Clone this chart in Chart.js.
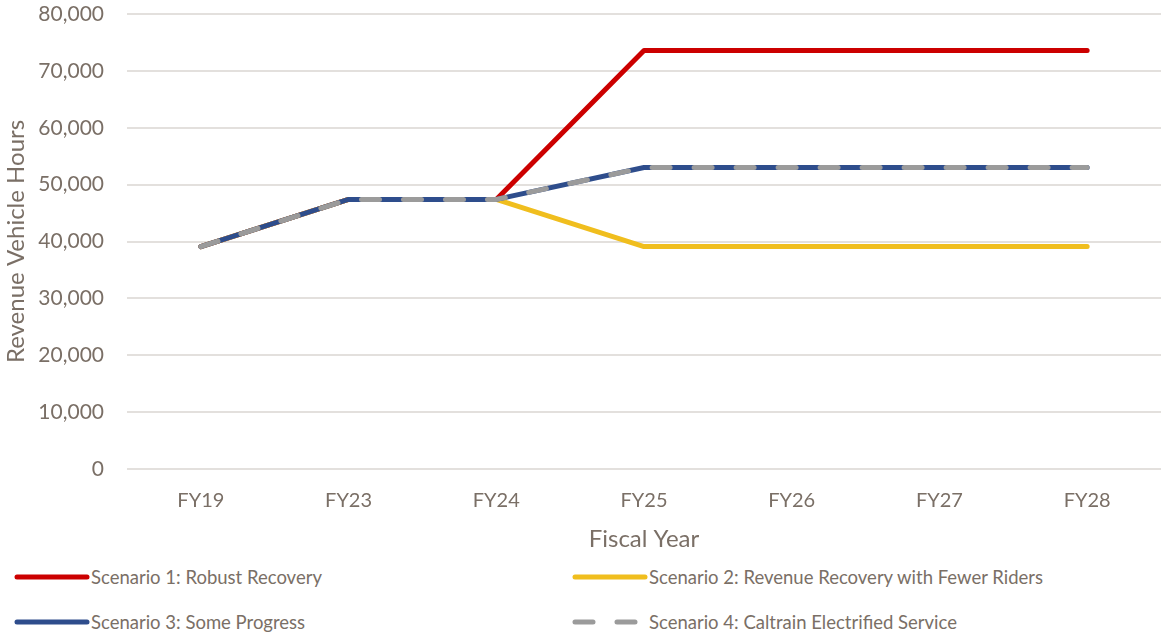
<!DOCTYPE html>
<html>
<head>
<meta charset="utf-8">
<script src="https://cdn.jsdelivr.net/npm/chart.js@4"></script>
<style>
  body { margin:0; background:#fff; font-family:Lato, "Open Sans", sans-serif; }
  #wrap { position:relative; width:1161px; height:639px; }
  #lineChart { position:absolute; left:0; top:0; }
  #legend { position:absolute; left:0; top:558px; width:1161px; height:81px; }
  .lg { position:absolute; display:flex; align-items:center; color:#7a6f66; font-size:18.5px; white-space:nowrap; }
  .lg canvas { margin-right:1px; }
</style>
</head>
<body>
<div id="wrap">
  <canvas id="lineChart" width="1161" height="558"></canvas>
  <div id="legend"></div>
</div>
<script>
// chart data
const years = ['FY19','FY23','FY24','FY25','FY26','FY27','FY28'];
const robust = [39100, 47400, 47400, 73600, 73600, 73600, 73600];
const fewerRiders = [39100, 47400, 47400, 39100, 39100, 39100, 39100];
const someProgress = [39100, 47400, 47400, 53000, 53000, 53000, 53000];
const caltrain = [39100, 47400, 47400, 53000, 53000, 53000, 53000];
const seriesNames = [
  'Scenario 1: Robust Recovery',
  'Scenario 2: Revenue Recovery with Fewer Riders',
  'Scenario 3: Some Progress',
  'Scenario 4: Caltrain Electrified Service'
];
const colors = ['#cc0000', '#f0be1e', '#2e4d8c', '#9b9b9b'];

const txt = '#7a6f66';
const font = 'Lato, "Open Sans", sans-serif';

const ctx = document.getElementById('lineChart').getContext('2d');
const lineChart = new Chart(ctx, {
  type: 'line',
  data: {
    labels: years,
    datasets: [
      {label: seriesNames[0], data: robust, borderColor: colors[0], order: 4},
      {label: seriesNames[1], data: fewerRiders, borderColor: colors[1], order: 3},
      {label: seriesNames[2], data: someProgress, borderColor: colors[2], order: 2},
      {label: seriesNames[3], data: caltrain, borderColor: colors[3], borderDash: [18, 24], order: 1}
    ].map(d => Object.assign({borderWidth: 5, pointRadius: 0, tension: 0, fill: false,
      borderCapStyle: 'round', borderJoinStyle: 'round'}, d))
  },
  options: {
    responsive: false,
    animation: false,
    layout: { padding: { top: 14, right: 0, left: 2, bottom: 0 } },
    plugins: { legend: { display: false }, tooltip: { enabled: false } },
    scales: {
      x: {
        offset: true,
        grid: { display: false },
        border: { display: false },
        ticks: { color: txt, font: { family: font, size: 20 }, padding: 12 },
        title: { display: true, text: 'Fiscal Year', color: txt, font: { family: font, size: 24 }, padding: { top: 8, bottom: 4 } },
        afterFit: s => { s.height = 89; }
      },
      y: {
        min: 0, max: 80000,
        ticks: { stepSize: 10000, color: txt, font: { family: font, size: 21 }, padding: 23,
          callback: v => v.toLocaleString('en-US') },
        grid: { color: '#e3e0dd', lineWidth: 2, drawTicks: false },
        border: { display: false },
        title: { display: true, text: 'Revenue Vehicle Hours', color: txt, font: { family: font, size: 24 }, padding: { top: 0, bottom: 2 } },
        afterFit: s => { s.width = 125; s.paddingTop = 0; s.paddingBottom = 0; }
      }
    }
  }
});

// html legend, two columns
const legendEl = document.getElementById('legend');
const slots = [[14, 21], [572, 21], [14, 66], [572, 66]];
seriesNames.forEach((name, i) => {
  const item = document.createElement('div');
  item.className = 'lg';
  item.style.left = slots[i][0] + 'px';
  item.style.top = (slots[i][1] - 13) + 'px';
  const sw = document.createElement('canvas');
  sw.width = 76; sw.height = 10;
  const c = sw.getContext('2d');
  c.strokeStyle = colors[i]; c.lineWidth = 5; c.lineCap = 'round';
  if (i === 3) c.setLineDash([18, 24]);
  c.beginPath(); c.moveTo(3, 5); c.lineTo(73, 5); c.stroke();
  const sp = document.createElement('span');
  sp.textContent = name;
  item.appendChild(sw); item.appendChild(sp);
  legendEl.appendChild(item);
});
</script>
</body>
</html>
